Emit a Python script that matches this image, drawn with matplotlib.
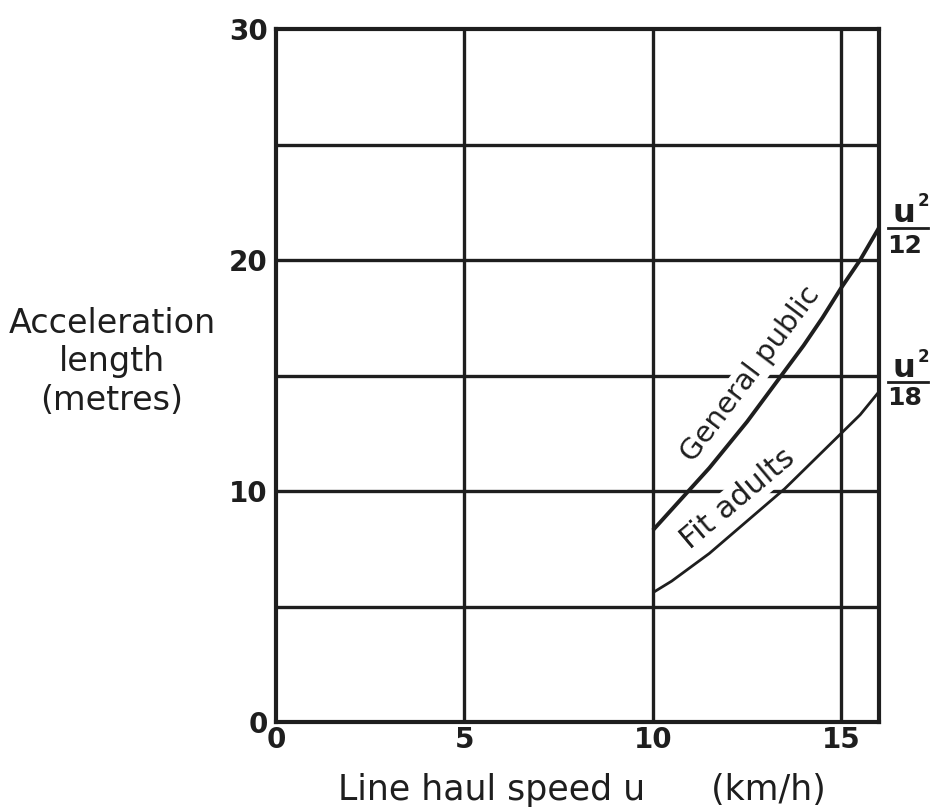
import matplotlib
matplotlib.use("Agg")
import matplotlib.pyplot as plt
from matplotlib.lines import Line2D

# data
speed = [10, 10.5, 11, 11.5, 12, 12.5, 13, 13.5, 14, 14.5, 15, 15.5, 16]
general_public = [8.3, 9.2, 10.1, 11.0, 12.0, 13.0, 14.1, 15.2, 16.3, 17.5, 18.8, 20.0, 21.4]
fit_adults = [5.6, 6.1, 6.7, 7.3, 8.0, 8.7, 9.4, 10.1, 10.9, 11.7, 12.5, 13.3, 14.3]
x_ticks = [0, 5, 10, 15]
y_ticks = [0, 10, 20, 30]
y_grid = [5, 10, 15, 20, 25]
x_grid = [5, 10, 15]

ink = "#1e1e1e"
plt.rcParams['font.family'] = ['DejaVu Sans']

fig = plt.figure(figsize=(9.3, 8.11), dpi=100)
ax = fig.add_axes([276/930, 1-722/811, (879-276)/930, (722-29)/811])
ax.set_xlim(0, 16)
ax.set_ylim(0, 30)

for g in y_grid:
    ax.axhline(g, color=ink, lw=2.4, zorder=1)
for g in x_grid:
    ax.axvline(g, color=ink, lw=2.4, zorder=1)

ax.plot(speed, general_public, color=ink, lw=2.8, zorder=4, solid_capstyle='butt',
        solid_joinstyle='round')
ax.plot(speed, fit_adults, color=ink, lw=2.0, zorder=4, solid_capstyle='butt',
        solid_joinstyle='round')

ax.text(12.6, 15.05, "General public", rotation=53, fontsize=21, color=ink,
        ha='center', va='center', rotation_mode='anchor', zorder=3,
        bbox=dict(boxstyle='square,pad=0.05', fc='white', ec='none'))
ax.text(12.25, 9.65, "Fit adults", rotation=40, fontsize=22, color=ink,
        ha='center', va='center', rotation_mode='anchor', zorder=3,
        bbox=dict(boxstyle='square,pad=0.05', fc='white', ec='none'))

for s in ax.spines.values():
    s.set_linewidth(3)
    s.set_color(ink)

ax.set_xticks(x_ticks)
ax.set_yticks(y_ticks)
ax.set_xticklabels([str(t) for t in x_ticks], fontsize=20, fontweight='bold', color=ink)
ax.set_yticklabels([str(t) for t in y_ticks], fontsize=20, fontweight='bold', color=ink)
ax.tick_params(axis='x', length=0, pad=3)
ax.tick_params(axis='y', length=0, pad=6)

fig.text(112/930, 1-362/811, "Acceleration\nlength\n(metres)", ha='center', va='center',
         fontsize=24, color=ink, linespacing=1.2)
fig.text(338/930, 1-790/811, "Line haul speed u      (km/h)", ha='left', va='center',
         fontsize=25, color=ink)

# right-hand formula labels
for yu, ybar, ybot, den in [(213, 228, 246, "12"), (369, 382, 398, "18")]:
    fig.text(904/930, 1-yu/811, "u", ha='center', va='center', fontsize=23,
             fontweight='bold', color=ink)
    fig.text(923/930, 1-(yu-12)/811, "2", ha='center', va='center', fontsize=12,
             fontweight='bold', color=ink)
    fig.add_artist(Line2D([888/930, 928/930], [1-ybar/811, 1-ybar/811], color=ink, lw=2,
                          transform=fig.transFigure))
    fig.text(905/930, 1-ybot/811, den, ha='center', va='center', fontsize=18,
             fontweight='bold', color=ink)

fig.savefig("out.png", dpi=100)
